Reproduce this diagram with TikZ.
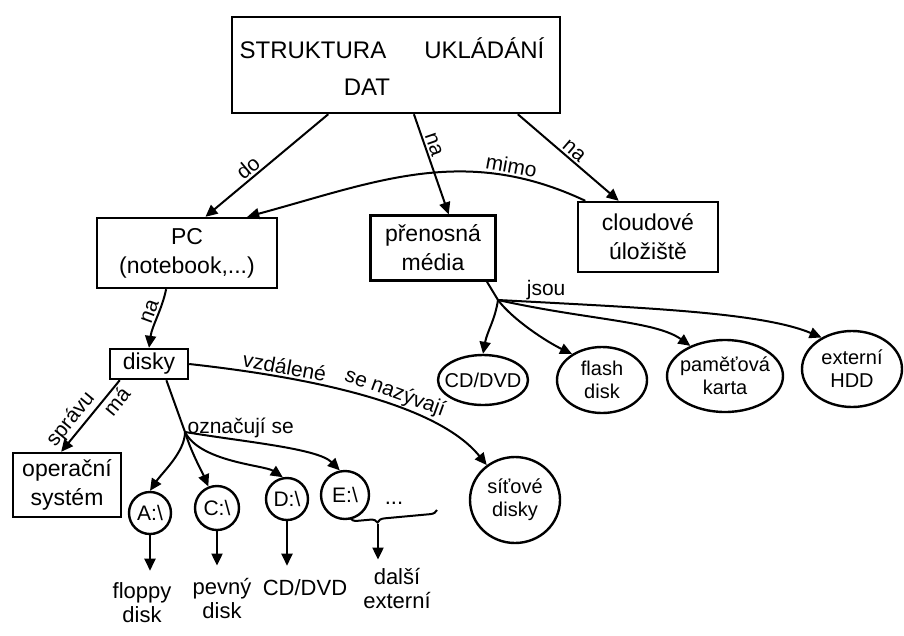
\documentclass[tikz,border=0pt]{standalone}
\usepackage{fontspec}
\setmainfont{Liberation Sans}
\usetikzlibrary{arrows.meta,shapes.geometric,decorations.pathreplacing}

\begin{document}
\begin{tikzpicture}[x=1pt,y=-1pt,
  every node/.style={inner sep=0pt},
  box/.style={draw, line width=2.4pt, rectangle, align=center, font=\fontsize{23}{29}\selectfont},
  oval/.style={draw, line width=2.4pt, ellipse},
  drive/.style={draw, line width=2.4pt, circle, font=\fontsize{21}{23}\selectfont},
  txt/.style={align=center, font=\fontsize{22}{24}\selectfont},
  ovaltxt/.style={align=center, font=\fontsize{20}{23}\selectfont},
  ttl/.style={font=\fontsize{24}{28}\selectfont},
  lab/.style={font=\fontsize{21}{23}\selectfont, inner sep=2pt},
  link/.style={line width=2pt, -{Triangle[length=12pt,width=11pt]}},
  stem/.style={line width=2pt},
]
\useasboundingbox (0,0) rectangle (904,635);

% main heading
\node[box, minimum width=328pt, minimum height=96pt] (title) at (396,65) {};
\node[ttl] (title1) at (392,48) {STRUKTURA\hspace{38pt}UKLÁDÁNÍ};
\node[ttl] (title2) at (367,87) {DAT};

% first level
\node[box, minimum width=180pt, minimum height=70pt] (pc) at (187,253) {PC\\(notebook,...)};
\node[box, minimum width=125pt, minimum height=65pt] (media) at (433,248) {přenosná\\média};
\node[box, minimum width=140pt, minimum height=70pt] (cloud) at (648,237) {cloudové\\úložiště};

% disks and their branches
\node[box, minimum width=78pt, minimum height=30pt] (disky) at (149,364) {disky};
\node[box, minimum width=108pt, minimum height=64pt] (os) at (67,485) {operační\\systém};

\node[drive, minimum size=42pt] (A) at (150,513) {A:\textbackslash};
\node[drive, minimum size=44pt] (C) at (217,508) {C:\textbackslash};
\node[drive, minimum size=42pt] (D) at (287,499) {D:\textbackslash};
\node[drive, minimum size=48pt] (E) at (345,495) {E:\textbackslash};
\node[txt] (dots) at (394,503) {...};

\node[oval, minimum width=90pt, minimum height=86pt] (sit) at (515,500) {};
\node[ovaltxt] (sit-t) at (sit) {síťové\\disky};

\node[txt] (floppy) at (142,603) {floppy\\disk};
\node[txt] (pevny) at (222,598) {pevný\\disk};
\node[txt] (cd2) at (305,588) {CD/DVD};
\node[txt] (dalsi) at (397,588) {další\\externí};

% portable media
\node[oval, minimum width=90pt, minimum height=50pt] (cd) at (483,380) {};
\node[ovaltxt] (cd-t) at (cd) {CD/DVD};
\node[oval, minimum width=90pt, minimum height=66pt] (flash) at (602,380) {};
\node[ovaltxt] (flash-t) at (flash) {flash\\disk};
\node[oval, minimum width=116pt, minimum height=72pt] (pam) at (725,376) {};
\node[ovaltxt] (pam-t) at (pam) {paměťová\\karta};
\node[oval, minimum width=100pt, minimum height=76pt] (ext) at (852,369) {};
\node[ovaltxt] (ext-t) at (ext) {externí\\HDD};

% branching points
\coordinate (j1) at (185,432);
\coordinate (j2) at (498,300);
\coordinate (bl) at (350,518);
\coordinate (br) at (437,510);
\coordinate (bt) at (378,524);

% connectors from the heading
\draw[link] (title.216) -- (pc.63) node[lab, sloped, above, pos=0.6] {do};
\draw[link] (title.290) -- (media.65) node[lab, sloped, above, pos=0.33] {na};
\draw[link] (title.338) -- (cloud.129) node[lab, sloped, above, pos=0.5] {na};
\draw[link] (cloud.150) .. controls +(-121,-57) and +(129,-35) .. (pc.31)
  node[lab, sloped, above, pos=0.22] {mimo};

% PC side
\draw[link] (pc.240) .. controls +(-4,20) and +(3,-22) .. (disky.north)
  node[lab, sloped, above, pos=0.45] {na};
\draw[link] (disky.209) -- (os.100)
  node[lab, sloped, above, pos=0.66] {správu}
  node[lab, sloped, below, pos=0.2] {má};
\draw[stem] (disky.317) -- (j1);
\draw[link] (j1) .. controls +(0,20) and +(12,-18) .. (A.north);
\draw[link] (j1) .. controls +(6,20) and +(-5,-12) .. (C.112);
\draw[link] (j1) .. controls +(15,30) and +(-18,-12) .. (D.101);
\draw[link] (j1) .. controls +(60,10) and +(-22,-22) .. (E.102)
  node[lab, above, pos=0.3] {označují se};
\draw[link] (disky.east) .. controls +(90,10) and +(-55,-68) .. (sit.129)
  node[lab, sloped, above, pos=0.3] {vzdálené}
  node[lab, sloped, above, pos=0.62] {se nazývají};

\draw[link, shorten >=12pt] (A.south) -- (A.south |- floppy.north);
\draw[link, shorten >=12pt] (C.south) -- (C.south |- pevny.north);
\draw[link, shorten >=14pt] (D.south) -- (D.south |- cd2.north);
\draw[stem, decorate, decoration={brace, mirror, amplitude=7pt, aspect=0.31}] (bl) -- (br);
\draw[link, shorten >=8pt] (bt) -- (bt |- dalsi.north);

% portable media side
\draw[stem] (media.328) -- (j2);
\draw[link] (j2) .. controls +(-3,20) and +(4,-22) .. (cd.north);
\draw[link] (j2) .. controls +(15,20) and +(-25,-12) .. (flash.139);
\draw[link] (j2) .. controls +(90,20) and +(-35,-25) .. (pam.139);
\draw[link] (j2) .. controls +(150,8) and +(-60,-25) .. (ext.134)
  node[lab, above, pos=0.11] {jsou};
\end{tikzpicture}
\end{document}
